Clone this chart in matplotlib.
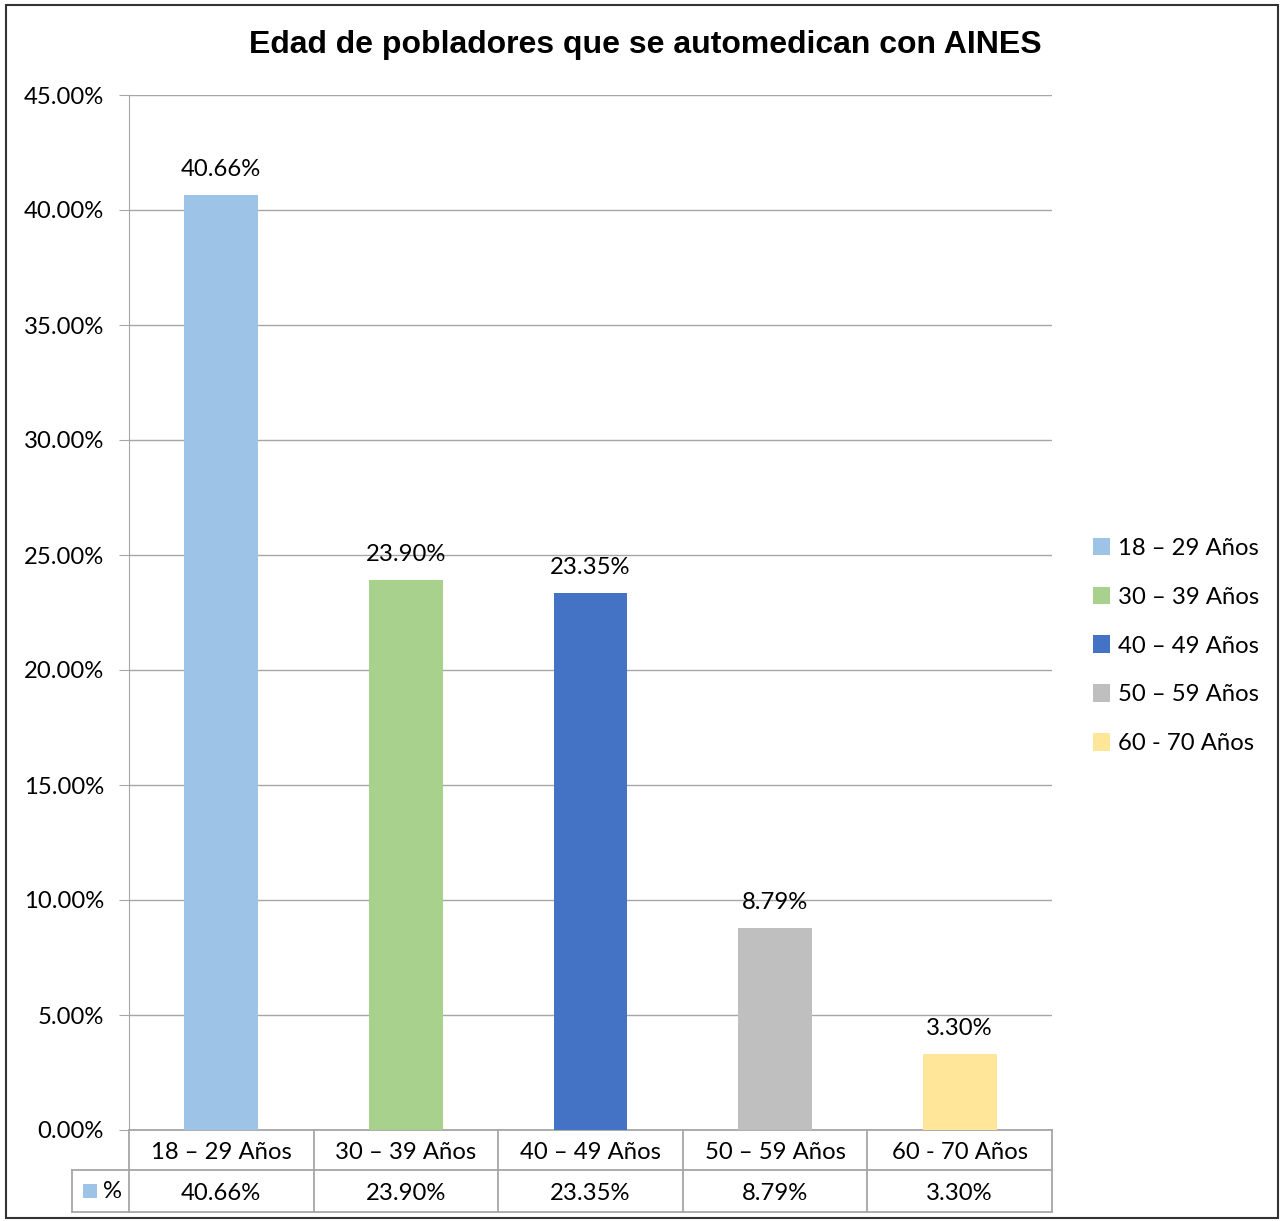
import matplotlib.pyplot as plt
import matplotlib.transforms as mtransforms
from matplotlib.patches import Rectangle, Patch
from matplotlib.lines import Line2D

# data
categories = ['18 – 29 Años', '30 – 39 Años', '40 – 49 Años', '50 – 59 Años', '60 - 70 Años']
values = [40.66, 23.90, 23.35, 8.79, 3.30]
colors = ['#9DC3E6', '#A9D18E', '#4472C4', '#BFBFBF', '#FFE699']
yticks = [0, 5, 10, 15, 20, 25, 30, 35, 40, 45]
title = 'Edad de pobladores que se automedican con AINES'
series_name = '%'

W, H = 1285, 1221
fig = plt.figure(figsize=(W / 100, H / 100), dpi=100)
font = 'Lato'
fs = 17.2
grid_col = '#A6A6A6'

ax = fig.add_axes([129 / W, 1 - 1130 / H, (1052 - 129) / W, (1130 - 95) / H])
x = list(range(len(categories)))
bars = ax.bar(x, values, width=0.4, color=colors, zorder=3)
ax.set_xlim(-0.5, len(categories) - 0.5)
ax.set_ylim(0, 45)
ax.set_yticks(yticks)
ax.set_yticklabels([f'{v:.2f}%' for v in yticks], fontfamily=font, fontsize=fs)
ax.set_xticks([])
ax.grid(axis='y', color=grid_col, linewidth=1, zorder=0)
ax.tick_params(axis='y', length=7, color=grid_col, pad=11)
for s in ['top', 'right', 'bottom']:
    ax.spines[s].set_visible(False)
ax.spines['left'].set_color(grid_col)

for xi, v in zip(x, values):
    ax.annotate(f'{v:.2f}%', (xi, v), xytext=(0, 11), textcoords='offset points',
                ha='center', va='bottom', fontfamily=font, fontsize=fs)

# data table below the axes
trans = mtransforms.blended_transform_factory(ax.transData, ax.transAxes)
r1 = -40 / 1035
r2 = -82 / 1035
n = len(categories)
kw = dict(color=grid_col, linewidth=1.3, transform=trans, clip_on=False)
for b in range(n + 1):
    ax.add_line(Line2D([b - 0.5, b - 0.5], [0, r2], **kw))
ax.add_line(Line2D([-0.5, n - 0.5], [r1, r1], **kw))
ax.add_line(Line2D([-0.5, n - 0.5], [r2, r2], **kw))
ax.add_line(Line2D([-0.5, n - 0.5], [0, 0], **kw))
# leading key cell
key_left = -0.5 - 57 / 184.6
ax.add_line(Line2D([key_left, -0.5], [r1, r1], **kw))
ax.add_line(Line2D([key_left, -0.5], [r2, r2], **kw))
ax.add_line(Line2D([key_left, key_left], [r1, r2], **kw))
ax.add_patch(Rectangle((key_left + 11 / 184.6, (r1 + r2) / 2 - 7 / 1035), 14 / 184.6, 14 / 1035,
                       facecolor=colors[0], transform=trans, clip_on=False))
ax.text(key_left + 31 / 184.6, (r1 + r2) / 2, series_name, transform=trans, ha='left', va='center',
        fontfamily=font, fontsize=fs)
for xi, c, v in zip(x, categories, values):
    ax.text(xi, r1 / 2 - 0.002, c, transform=trans, ha='center', va='center', fontfamily=font, fontsize=fs)
    ax.text(xi, (r1 + r2) / 2 - 0.002, f'{v:.2f}%', transform=trans, ha='center', va='center',
            fontfamily=font, fontsize=fs)

# legend
handles = [Patch(facecolor=c, label=l) for c, l in zip(colors, categories)]
fig.legend(handles=handles, loc='center left', bbox_to_anchor=(1071 / W, 1 - 646 / H),
           frameon=False, prop={'family': font, 'size': fs}, handlelength=0.75, handleheight=0.75,
           handletextpad=0.3, labelspacing=1.16)

fig.text(645 / W, 1 - 45 / H, title, ha='center', va='center', fontfamily='Liberation Sans',
         fontweight='bold', fontsize=23)

# outer frame
fig.add_artist(Rectangle((6 / W, 3 / H), (1278 - 6) / W, (1216 - 3) / H, fill=False,
                         edgecolor='#333333', linewidth=1.5, transform=fig.transFigure))

fig.savefig('out.png', dpi=100)
